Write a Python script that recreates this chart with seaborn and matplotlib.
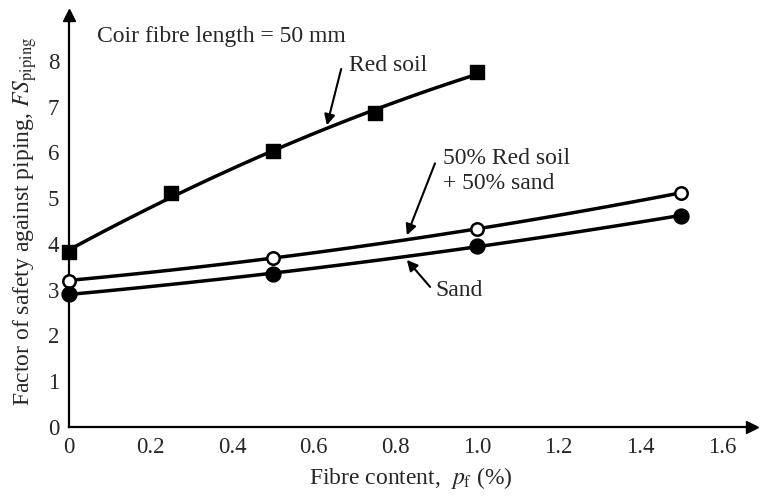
import matplotlib
matplotlib.use("Agg")
import matplotlib.pyplot as plt
import seaborn as sns
import numpy as np

# ---- data ----
red_x = [0.0, 0.25, 0.5, 0.75, 1.0]
red_y = [3.82, 5.12, 6.02, 6.85, 7.75]
mix_x = [0.0, 0.5, 1.0, 1.5]
mix_y = [3.2, 3.7, 4.32, 5.12]
sand_x = [0.0, 0.5, 1.0, 1.5]
sand_y = [2.9, 3.35, 3.95, 4.62]
xticks = [0, 0.2, 0.4, 0.6, 0.8, 1.0, 1.2, 1.4, 1.6]
xticklabels = ["0", "0.2", "0.4", "0.6", "0.8", "1.0", "1.2", "1.4", "1.6"]
yticks = [0, 1, 2, 3, 4, 5, 6, 7, 8]

sns.set_style("white")
plt.rcParams["font.family"] = ["Liberation Serif", "DejaVu Serif"]
plt.rcParams["mathtext.fontset"] = "stix"

fig = plt.figure(figsize=(7.67, 4.97), dpi=100)
ax = fig.add_axes([0.090, 0.1408, 0.891, 0.829])

line_kws = dict(color="black", lw=2.5, zorder=2)
for xs, ys in [(red_x, red_y), (mix_x, mix_y), (sand_x, sand_y)]:
    sns.regplot(x=xs, y=ys, order=2, ci=None, scatter=False, ax=ax,
                line_kws=line_kws)

sns.scatterplot(x=red_x, y=red_y, marker="s", s=115, color="black",
                edgecolor="black", linewidth=1, ax=ax, zorder=3, clip_on=False)
sns.scatterplot(x=mix_x, y=mix_y, marker="o", s=80, color="white",
                edgecolor="black", linewidth=1.8, ax=ax, zorder=3, clip_on=False)
sns.scatterplot(x=sand_x, y=sand_y, marker="o", s=115, color="black",
                edgecolor="black", linewidth=1, ax=ax, zorder=3, clip_on=False)

ax.set_xlim(0, 1.675)
ax.set_ylim(0, 9.0)
ax.set_xticks(xticks)
ax.set_xticklabels(xticklabels)
ax.set_yticks(yticks)
ax.tick_params(direction="in", length=7, width=1.6, labelsize=16.5, pad=7)

for s in ["top", "right"]:
    ax.spines[s].set_visible(False)
for s in ["left", "bottom"]:
    ax.spines[s].set_linewidth(1.6)
    ax.spines[s].set_color("black")

# axis arrows
ax.plot(1, 0, ">", color="black", markersize=9, transform=ax.transAxes, clip_on=False)
ax.plot(0, 1, "^", color="black", markersize=9, transform=ax.transAxes, clip_on=False)

ax.set_xlabel(r"Fibre content,  $p_{\rm f}$ (%)", fontsize=17, labelpad=5)
ax.set_ylabel(r"Factor of safety against piping, $FS_{\rm piping}$", fontsize=17, labelpad=6)

fs = 17
ax.text(0.069, 8.52, "Coir fibre length = 50 mm", fontsize=fs, ha="left", va="center")

arrow = dict(arrowstyle="-|>", color="black", lw=1.5, mutation_scale=16,
             shrinkA=0, shrinkB=0)
ax.annotate("", xy=(0.632, 6.59), xytext=(0.667, 7.82), arrowprops=arrow)
ax.text(0.685, 7.9, "Red soil", fontsize=fs, ha="left", va="center")

ax.annotate("", xy=(0.828, 4.19), xytext=(0.897, 5.76), arrowprops=arrow)
ax.text(0.917, 5.87, "50% Red soil", fontsize=fs, ha="left", va="center")
ax.text(0.917, 5.33, "+ 50% sand", fontsize=fs, ha="left", va="center")

ax.annotate("", xy=(0.828, 3.65), xytext=(0.885, 3.06), arrowprops=arrow)
ax.text(0.897, 2.99, "Sand", fontsize=fs, ha="left", va="center")

fig.savefig("out.png", dpi=100)
